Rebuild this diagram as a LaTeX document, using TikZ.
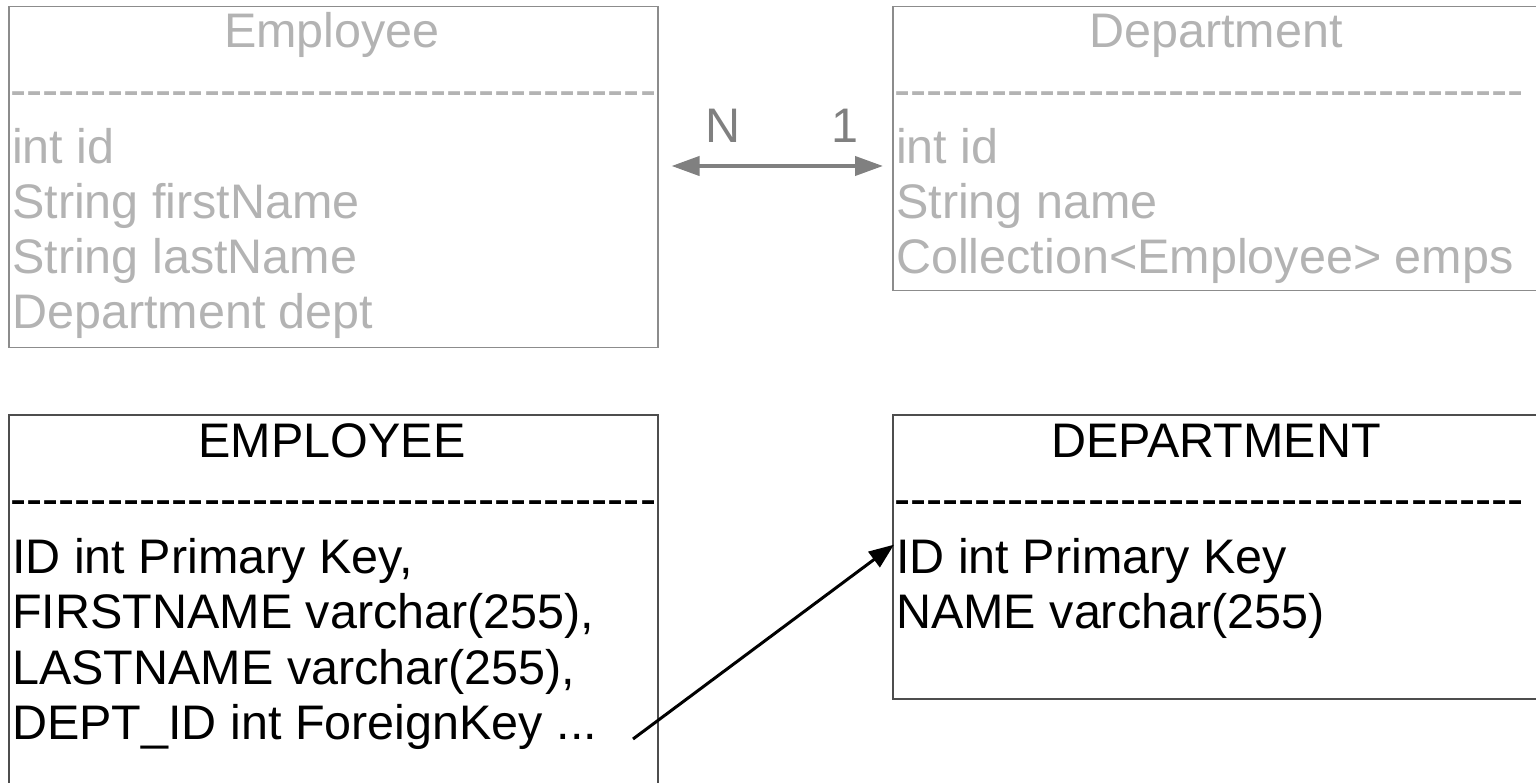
\documentclass[tikz,border=0pt]{standalone}
\usepackage{fontspec}
\setmainfont{Liberation Sans}
\usepackage{tikz}
\usetikzlibrary{arrows.meta}
\definecolor{classtext}{HTML}{B3B3B3}
\definecolor{classline}{HTML}{8C8C8C}
\definecolor{relgray}{HTML}{808080}
\definecolor{tableline}{HTML}{4D4D4D}
% a row of plain hyphens (kern keeps -- from turning into a dash)
\newcommand{\hyphenrow}[1]{\foreach \i in {1,...,#1}{-\kern0pt}}

\begin{document}
\begin{tikzpicture}[x=1pt, y=-1pt,
    every node/.style={font=\fontsize{48.5pt}{55pt}\selectfont, inner sep=0pt},
    box/.style={line width=1.5pt, minimum width=649pt, anchor=north west},
    classbox/.style={box, draw=classline},
    tablebox/.style={box, draw=tableline},
    classrow/.style={text=classtext},
    relarrow/.style={{Triangle[length=28pt,width=19pt]}-{Triangle[length=28pt,width=19pt]}, line width=4pt, draw=relgray},
    fkarrow/.style={-{Triangle[length=25pt,width=19pt]}, line width=3pt}]
  \useasboundingbox (0,0) rectangle (1536,783);
  \clip (0,0) rectangle (1536,783);

  % entity classes
  \node[classbox, minimum height=341pt] (employee) at (8,6) {};
  \node[classbox, minimum height=284pt] (department) at (892,6) {};
  \node[classrow, anchor=base] (employeetitle) at (332,48) {Employee};
  \node[classrow, anchor=base] (departmenttitle) at (1216,48) {Department};
  \node[classrow, anchor=base west] (employeesep) at (10,107) {\hyphenrow{40}};
  \node[classrow, anchor=base west] (departmentsep) at (894,107) {\hyphenrow{39}};
  \foreach \field [count=\k] in {int id, String firstName, String lastName, Department dept}
    \node[classrow, anchor=base west] (employeefield\k) at (12,164+55*\k-55) {\field};
  \foreach \field [count=\k] in {int id, String name, Collection<Employee> emps}
    \node[classrow, anchor=base west] (departmentfield\k) at (896,164+55*\k-55) {\field};

  % N:1 relation between the classes
  \coordinate (relrow) at (0,166);
  \draw[relarrow, shorten <=13pt, shorten >=9pt] (employee.east |- relrow) -- (department.west |- relrow);
  \node[text=relgray, anchor=base] (many) at (723,143) {N};
  \node[text=relgray, anchor=base] (one) at (845,143) {1};

  % tables
  \node[tablebox, minimum height=380pt] (emptable) at (8,414) {};
  \node[tablebox, minimum height=284pt] (depttable) at (892,414) {};
  \node[anchor=base] (emptitle) at (332,457) {EMPLOYEE};
  \node[anchor=base] (depttitle) at (1216,457) {DEPARTMENT};
  \node[anchor=base west] (empsep) at (10,515) {\hyphenrow{40}};
  \node[anchor=base west] (deptsep) at (894,515) {\hyphenrow{39}};
  \foreach \col [count=\k] in {{ID int Primary Key,}, {FIRSTNAME varchar(255),}, {LASTNAME varchar(255),}, {DEPT\_ID int ForeignKey {.}{.}{.}}}
    \node[anchor=base west] (empcol\k) at (12,573+55.5*\k-55.5) {\col};
  \foreach \col [count=\k] in {ID int Primary Key, NAME varchar(255)}
    \node[anchor=base west] (deptcol\k) at (896,573+55.5*\k-55.5) {\col};

  % foreign key
  \coordinate (fkfrom) at (633,739);
  \draw[fkarrow] (fkfrom) -- ([xshift=-2pt,yshift=-7pt]deptcol1.north west);
\end{tikzpicture}
\end{document}
